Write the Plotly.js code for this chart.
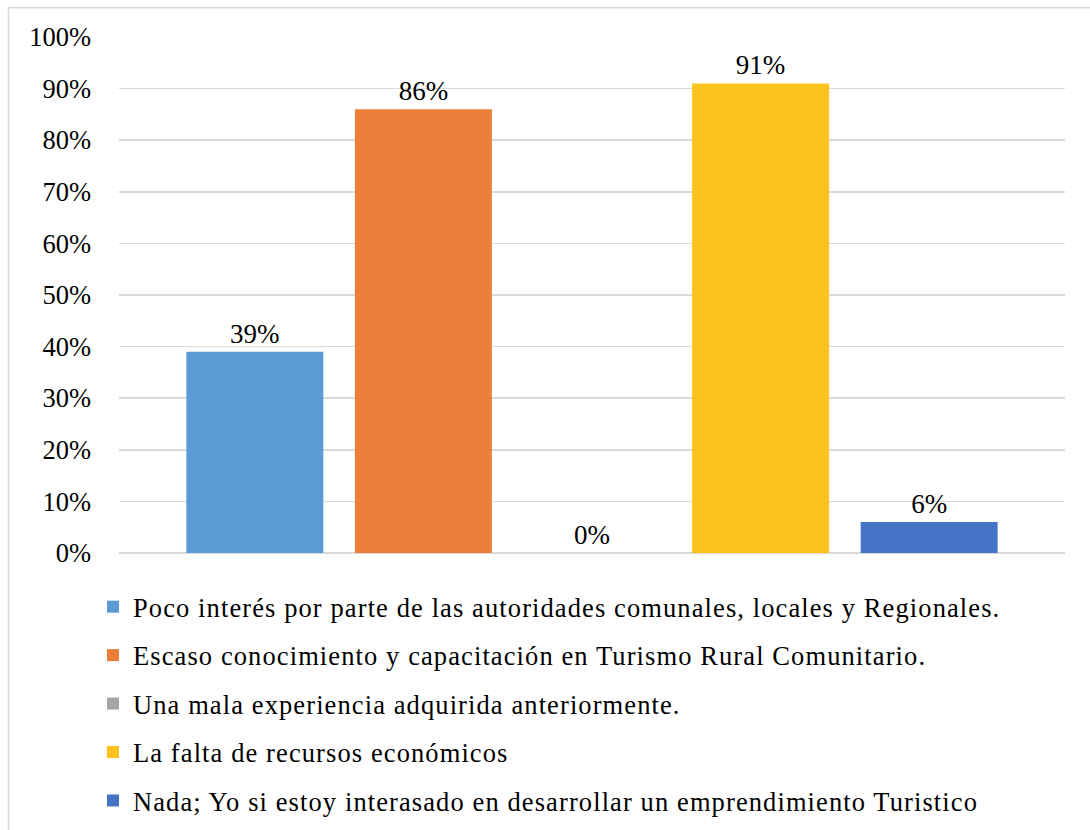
<!DOCTYPE html>
<html>
<head>
<meta charset="utf-8">
<script src="https://cdn.plot.ly/plotly-3.0.1.min.js"></script>
<style>
html,body{margin:0;padding:0;background:#fff;}
#chart{width:1090px;height:830px;}
.legendtext{letter-spacing:1.1px;}
</style>
</head>
<body>
<div id="chart"></div>
<script>
const seriesNames = [
  "Poco interés por parte de las autoridades comunales, locales y Regionales.",
  "Escaso conocimiento y capacitación en Turismo Rural Comunitario.",
  "Una mala experiencia adquirida anteriormente.",
  "La falta de recursos económicos",
  "Nada; Yo si estoy interasado en desarrollar un emprendimiento Turistico"
];
const seriesValues = [39, 86, 0, 91, 6];
const seriesColors = ["#5c9ad6", "#ec7e3a", "#a5a5a5", "#fcc21e", "#4574c6"];
const category = [""];
const yTickValues = [0,10,20,30,40,50,60,70,80,90,100];
const yTickLabels = ["0%","10%","20%","30%","40%","50%","60%","70%","80%","90%","100%"];

const FONT = "Liberation Serif";
const FS = 26.5;
const traces = seriesNames.map((name, i) => ({
  type: "bar",
  name: name,
  x: category,
  y: [seriesValues[i]],
  marker: {color: seriesColors[i]},
  text: [seriesValues[i] + "%"],
  textposition: "outside",
  constraintext: "none",
  textfont: {family: FONT, size: 27, color: "#000"},
  cliponaxis: false,
  legendgroup: "g" + i,
  hoverinfo: "skip"
}));

const layout = {
  width: 1090, height: 830,
  margin: {l: 119, r: 25, t: 37, b: 277, autoexpand: false},
  paper_bgcolor: "#fff", plot_bgcolor: "#fff",
  font: {family: FONT, size: FS, color: "#000"},
  barmode: "group",
  bargap: 0.109,
  bargroupgap: 0.1875,
  showlegend: true,
  legend: {
    orientation: "v",
    xref: "paper", yref: "paper",
    x: -0.0275, xanchor: "left",
    y: -0.058, yanchor: "top",
    tracegroupgap: 11,
    traceorder: "grouped",
    font: {family: FONT, size: FS, color: "#000"},
    bgcolor: "rgba(0,0,0,0)"
  },
  xaxis: {showticklabels: false, showgrid: false, zeroline: false, showline: false, fixedrange: true},
  yaxis: {
    range: [0, 100], tickmode: "array", tickvals: yTickValues, ticktext: yTickLabels,
    showgrid: true, gridcolor: "#d9d9d9", gridwidth: 1.5,
    zeroline: true, zerolinecolor: "#d9d9d9", zerolinewidth: 1.5,
    showline: false, ticks: "", ticklabelstandoff: 27,
    tickfont: {family: FONT, size: FS, color: "#000"},
    fixedrange: true
  },
  shapes: [{
    type: "rect", xref: "paper", yref: "paper",
    x0: -0.1168, x1: 1.2, y0: -1, y1: 1.0566,
    line: {color: "#d9d9d9", width: 1.5}, fillcolor: "rgba(0,0,0,0)", layer: "below"
  }]
};

Plotly.newPlot("chart", traces, layout, {displayModeBar: false, staticPlot: true});
</script>
</body>
</html>
